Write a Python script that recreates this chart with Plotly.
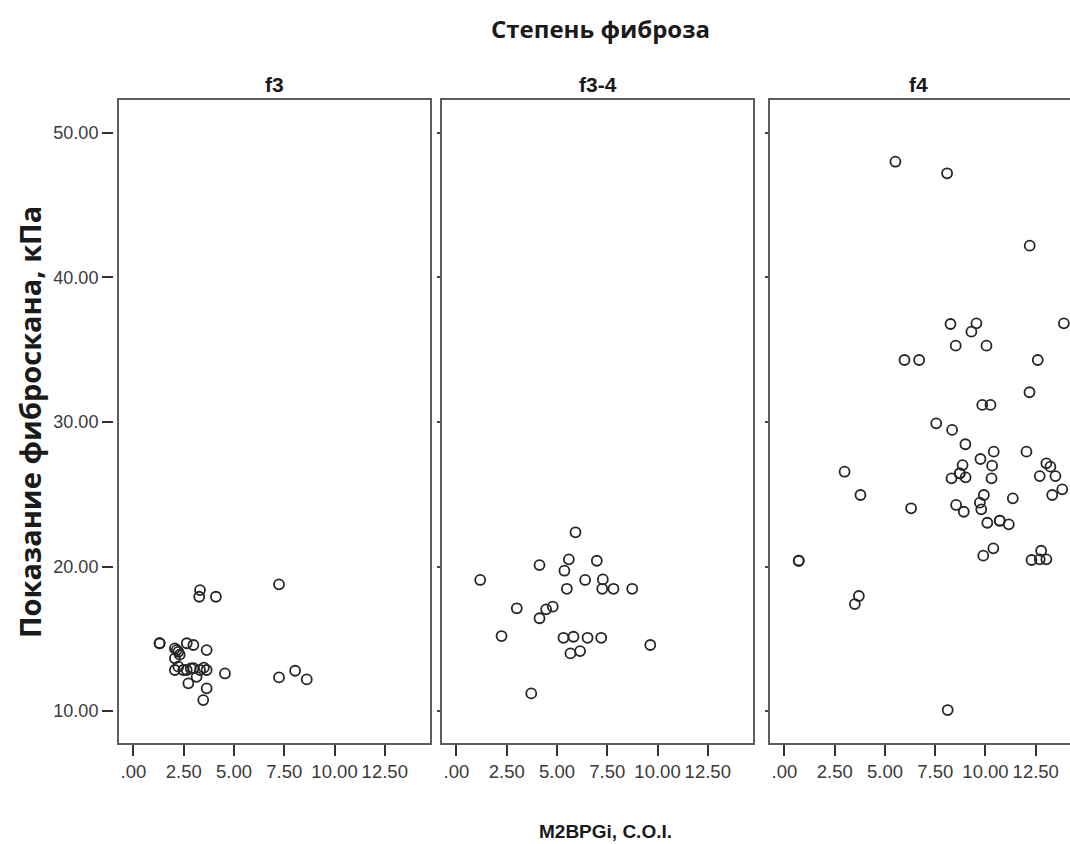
import plotly.graph_objects as go

# ---- data ----
panel_names = ["f3", "f3-4", "f4"]

f3_x = [3.31, 3.27, 4.10, 7.24, 1.30, 1.30, 2.06, 2.23, 2.65, 2.98, 3.64, 2.15, 2.06, 2.30,
        2.06, 2.48, 2.65, 2.98, 3.31, 3.64, 2.23, 3.14, 2.85, 3.50, 4.55, 2.73, 3.64, 3.47,
        7.24, 8.04, 8.62]
f3_y = [18.37, 17.91, 17.91, 18.77, 14.69, 14.69, 14.34, 14.10, 14.69, 14.57, 14.22, 14.22, 13.65, 13.90,
        12.84, 12.84, 12.84, 12.96, 12.84, 12.84, 13.07, 12.37, 12.95, 13.00, 12.60, 11.92, 11.57, 10.76,
        12.33, 12.79, 12.19]

f34_x = [5.92, 4.13, 5.59, 6.98, 5.37, 1.18, 6.40, 7.28, 5.49, 7.25, 7.81, 8.74, 3.00, 4.79,
         4.46, 4.13, 2.24, 5.32, 5.82, 6.52, 7.20, 9.64, 5.67, 6.15, 3.72]
f34_y = [22.37, 20.10, 20.50, 20.40, 19.71, 19.07, 19.07, 19.11, 18.46, 18.46, 18.46, 18.46, 17.11, 17.22,
         17.04, 16.42, 15.19, 15.07, 15.14, 15.07, 15.07, 14.57, 13.99, 14.15, 11.22]

f4_x = [5.52, 8.09, 12.20, 8.26, 9.55, 9.30, 13.90, 8.52, 10.05, 5.97, 6.70, 12.60, 12.19, 9.84,
        10.25, 7.55, 8.34, 9.00, 10.41, 12.04, 9.75, 10.33, 8.86, 8.72, 8.72, 8.31, 9.01, 10.30,
        2.99, 13.03, 13.23, 12.70, 13.48, 13.82, 13.32, 3.78, 11.36, 9.92, 9.72, 9.79, 8.54,
        8.92, 6.30, 10.09, 10.71, 10.71, 11.16, 10.39, 9.89, 12.77, 12.29, 12.70, 13.03, 0.71,
        0.71, 3.70, 3.50, 8.12]
f4_y = [48.01, 47.21, 42.20, 36.78, 36.83, 36.25, 36.83, 35.28, 35.28, 34.29, 34.29, 34.29, 32.06, 31.18,
        31.18, 29.91, 29.45, 28.46, 27.95, 27.95, 27.44, 26.98, 27.02, 26.45, 26.45, 26.10, 26.17, 26.10,
        26.56, 27.14, 26.91, 26.26, 26.26, 25.34, 24.95, 24.95, 24.72, 24.95, 24.42, 23.96, 24.26,
        23.79, 24.03, 23.03, 23.17, 23.17, 22.92, 21.26, 20.75, 21.09, 20.45, 20.50, 20.50, 20.40,
        20.40, 17.96, 17.40, 10.07]

x_tickvals = [0, 2.5, 5, 7.5, 10, 12.5]
x_ticktext = [".00", "2.50", "5.00", "7.50", "10.00", "12.50"]
y_tickvals = [10, 20, 30, 40, 50]
y_ticktext = ["10.00", "20.00", "30.00", "40.00", "50.00"]

main_title = "Степень фиброза"
x_title = "M2BPGi, C.O.I."
y_title = "Показание фиброскана, кПа"

# ---- layout geometry ----
W, H = 1070, 844
def px(x):
    return x / W
def py(y):
    return 1 - y / H

panel_px = [(118, 431), (441, 754), (769, 1082)]
top_px, bot_px = 99, 744
x_range_full = [-0.77, 14.80]
x_range_last = [-0.77, -0.77 + (W - 769) / 20.1]
y_range = [7.72, 52.35]

FONT = "Liberation Sans, Arial, sans-serif"
WIDE = "Open Sans, DejaVu Sans, sans-serif"
TXT = "#3a3a3a"
FRAME = "#5e5e5e"
MARK = "#262626"

fig = go.Figure()
series = [(f3_x, f3_y), (f34_x, f34_y), (f4_x, f4_y)]
for i, (xs, ys) in enumerate(series):
    fig.add_trace(go.Scatter(
        x=xs, y=ys, mode="markers",
        marker=dict(symbol="circle-open", size=10, color=MARK, line=dict(width=1.8, color=MARK)),
        xaxis="x" if i == 0 else f"x{i+1}", yaxis="y" if i == 0 else f"y{i+1}",
        showlegend=False, hoverinfo="skip"))

layout = dict(
    width=W, height=H, margin=dict(l=0, r=0, t=0, b=0),
    paper_bgcolor="white", plot_bgcolor="white",
    font=dict(family=FONT, color=TXT),
    showlegend=False,
)
for i in range(3):
    xl, xr = panel_px[i]
    xd = [px(xl), min(1.0, px(xr))]
    xname = "xaxis" if i == 0 else f"xaxis{i+1}"
    yname = "yaxis" if i == 0 else f"yaxis{i+1}"
    ya = "y" if i == 0 else f"y{i+1}"
    xa = "x" if i == 0 else f"x{i+1}"
    layout[xname] = dict(
        domain=xd, anchor=ya,
        range=x_range_last if i == 2 else x_range_full,
        tickmode="array", tickvals=x_tickvals, ticktext=x_ticktext,
        ticks="outside", ticklen=11, tickwidth=2, tickcolor="#333333",
        showgrid=False, zeroline=False, showline=False,
        tickfont=dict(size=18.5, color=TXT, family=FONT),
        fixedrange=True,
    )
    if i == 0:
        layout[yname] = dict(
            domain=[py(bot_px), py(top_px)], anchor="free", position=px(113),
            range=y_range, tickmode="array", tickvals=y_tickvals, ticktext=y_ticktext,
            ticks="outside", ticklen=11, tickwidth=2, tickcolor="#333333",
            showgrid=False, zeroline=False, showline=False,
            tickfont=dict(size=18, color=TXT, family=FONT),
            fixedrange=True,
        )
    else:
        layout[yname] = dict(
            domain=[py(bot_px), py(top_px)], anchor=xa,
            range=y_range, tickmode="array", tickvals=y_tickvals,
            showticklabels=False, ticks="outside", ticklen=3, tickwidth=2, tickcolor="#444444",
            showgrid=False, zeroline=False, showline=False, fixedrange=True,
        )

fig.update_layout(**layout)

# panel frames
shapes = []
for i in range(3):
    xl, xr = panel_px[i]
    shapes.append(dict(type="rect", xref="paper", yref="paper",
                       x0=px(xl), x1=px(xr), y0=py(bot_px), y1=py(top_px),
                       line=dict(color=FRAME, width=2), fillcolor="rgba(0,0,0,0)", layer="above"))
fig.update_layout(shapes=shapes)

ann = [
    dict(text=f"<b>{main_title}</b>", x=px(600), y=py(28), xref="paper", yref="paper",
         showarrow=False, font=dict(size=24, color="#1a1a1a", family=WIDE),
         xanchor="center", yanchor="middle"),
    dict(text=f"<b>{x_title}</b>", x=px(605), y=py(831), xref="paper", yref="paper",
         showarrow=False, font=dict(size=19, color="#1a1a1a", family=FONT), xanchor="center", yanchor="middle"),
    dict(text=f"<b>{y_title}</b>", x=px(29), y=py(422), xref="paper", yref="paper", textangle=-90,
         showarrow=False, font=dict(size=29, color="#1a1a1a", family=WIDE),
         xanchor="center", yanchor="middle"),
]
title_centers = [274.5, 597.5, 918]
for name, cx in zip(panel_names, title_centers):
    ann.append(dict(text=f"<b>{name}</b>", x=px(cx), y=py(84), xref="paper", yref="paper",
                    showarrow=False, font=dict(size=21, color="#1a1a1a", family=FONT),
                    xanchor="center", yanchor="middle"))
fig.update_layout(annotations=ann)

fig.write_html("out.html")
